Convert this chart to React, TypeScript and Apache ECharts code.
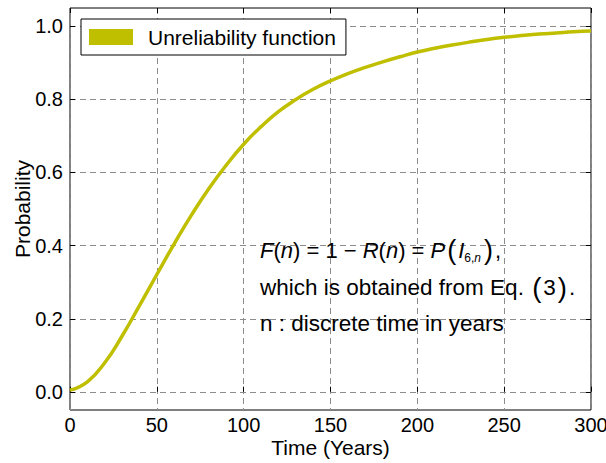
import React, { useEffect, useRef } from "react";
import * as echarts from "echarts";

// Time axis (years) and the unreliability F(n) at each sample
const years = [
  0, 10, 20, 30, 40, 50, 60, 70, 80, 90, 100, 110, 120, 130, 140, 150,
  160, 170, 180, 190, 200, 210, 220, 230, 240, 250, 260, 270, 280, 290, 300,
];
const unreliability = [
  0.005, 0.028, 0.08, 0.153, 0.236, 0.321, 0.405, 0.484, 0.556, 0.62, 0.677,
  0.725, 0.766, 0.799, 0.827, 0.85, 0.87, 0.887, 0.902, 0.916, 0.929,
  0.939, 0.948, 0.956, 0.963, 0.969, 0.974, 0.978, 0.981, 0.984, 0.986,
];
const xTicks = [0, 50, 100, 150, 200, 250, 300];
const yTicks = [0, 0.2, 0.4, 0.6, 0.8, 1.0];

const SERIES_NAME = "Unreliability function";
const LINE_COLOR = "#bfbf00";
const FONT = "'Liberation Sans', Arial, sans-serif";

export default function App() {
  const ref = useRef<HTMLDivElement>(null);

  useEffect(() => {
    if (!ref.current) return;
    const chart = echarts.init(ref.current, undefined, { renderer: "svg" });

    const gridLine = {
      show: true,
      lineStyle: { color: "#8c8c8c", width: 1, type: [6, 4] as number[] },
    };
    const inTick = {
      show: true,
      inside: true,
      length: 5,
      lineStyle: { color: "#000", width: 1 },
    };

    const plotLeft = 70;
    const plotRight = 606 - 591;

    const mathText = (fs: number) => ({
      n: { fontSize: fs, fontFamily: FONT, fill: "#000" },
      i: { fontSize: fs, fontFamily: FONT, fontStyle: "italic", fill: "#000" },
      p: { fontSize: fs + 5, fontFamily: FONT, fill: "#000", padding: [0, 2, 0, 2] },
      s: {
        fontSize: 12,
        fontFamily: FONT,
        fill: "#000",
        verticalAlign: "bottom",
        padding: [10, 0, 0, 0],
      },
      si: {
        fontSize: 12,
        fontFamily: FONT,
        fontStyle: "italic",
        fill: "#000",
        verticalAlign: "bottom",
        padding: [10, 1, 0, 0],
      },
    });

    chart.setOption({
      animation: false,
      backgroundColor: "#fff",
      textStyle: { fontFamily: FONT },
      grid: [
        // outer frame: full plotting box
        {
          left: plotLeft,
          right: plotRight,
          top: 8,
          bottom: 463 - 410,
          outerBoundsMode: "none",
          containLabel: false,
          show: true,
          borderColor: "#000",
          borderWidth: 1,
          backgroundColor: "transparent",
        },
        // value box: 0..1 probability span
        {
          left: plotLeft,
          right: plotRight,
          top: 26,
          bottom: 463 - 392,
          outerBoundsMode: "none",
          containLabel: false,
        },
      ],
      xAxis: [
        {
          gridIndex: 0,
          type: "value",
          position: "bottom",
          min: xTicks[0],
          max: xTicks[xTicks.length - 1],
          interval: xTicks[1] - xTicks[0],
          axisLine: { show: false },
          axisTick: inTick,
          splitLine: gridLine,
          axisLabel: {
            color: "#000",
            fontSize: 20,
            fontFamily: FONT,
            margin: 5,
          },
          name: "Time (Years)",
          nameLocation: "middle",
          nameGap: 27,
          nameMoveOverlap: false,
          nameTextStyle: { color: "#000", fontSize: 21, fontFamily: FONT },
        },
        {
          gridIndex: 0,
          type: "value",
          position: "top",
          min: xTicks[0],
          max: xTicks[xTicks.length - 1],
          interval: xTicks[1] - xTicks[0],
          axisLine: { show: false },
          axisTick: inTick,
          axisLabel: { show: false },
          splitLine: { show: false },
        },
        {
          gridIndex: 1,
          type: "value",
          min: xTicks[0],
          max: xTicks[xTicks.length - 1],
          show: false,
        },
      ],
      yAxis: [
        {
          gridIndex: 0,
          type: "value",
          min: -0.05,
          max: 1.05,
          show: false,
        },
        {
          gridIndex: 1,
          type: "value",
          position: "left",
          min: yTicks[0],
          max: yTicks[yTicks.length - 1],
          interval: yTicks[1] - yTicks[0],
          axisLine: { show: false },
          axisTick: inTick,
          splitLine: gridLine,
          axisLabel: {
            color: "#000",
            fontSize: 20,
            fontFamily: FONT,
            margin: 7,
            formatter: (v: number) => v.toFixed(1),
          },
          name: "Probability",
          nameLocation: "middle",
          nameGap: 37,
          nameMoveOverlap: false,
          nameTextStyle: { color: "#000", fontSize: 21, fontFamily: FONT },
        },
        {
          gridIndex: 1,
          type: "value",
          position: "right",
          min: yTicks[0],
          max: yTicks[yTicks.length - 1],
          interval: yTicks[1] - yTicks[0],
          axisLine: { show: false },
          axisTick: inTick,
          axisLabel: { show: false },
          splitLine: { show: false },
        },
      ],
      legend: {
        left: 81,
        top: 19,
        orient: "vertical",
        padding: [7, 10, 7, 8],
        itemWidth: 44,
        itemHeight: 16,
        backgroundColor: "#fff",
        borderColor: "#000",
        borderWidth: 1,
        borderRadius: 0,
        textStyle: {
          color: "#000",
          fontSize: 21,
          fontFamily: FONT,
          lineHeight: 22,
          padding: [0, 0, 0, 10],
        },
        data: [
          { name: SERIES_NAME, icon: "rect", itemStyle: { color: LINE_COLOR } },
        ],
      },
      series: [
        {
          name: SERIES_NAME,
          type: "line",
          xAxisIndex: 2,
          yAxisIndex: 1,
          data: years.map((y, i) => [y, unreliability[i]]),
          smooth: true,
          showSymbol: false,
          lineStyle: { color: LINE_COLOR, width: 3.5 },
          itemStyle: { color: LINE_COLOR },
          clip: false,
          z: 3,
        },
      ],
      graphic: [
        {
          type: "text",
          x: 260,
          y: 250,
          z: 10,
          style: {
            text:
              "{i|F}{n|(}{i|n}{n|) = 1 − }{i|R}{n|(}{i|n}{n|) = }{i|P}{p|(}{i|I}{s|6,}{si|n}{p|)}{n|,}",
            verticalAlign: "middle",
            align: "left",
            fill: "#000",
            rich: mathText(22),
          },
        },
        {
          type: "text",
          x: 260,
          y: 287,
          z: 10,
          style: {
            text: "{n|which is obtained from Eq. }{p|(}{n|3}{p|)}{n|.}",
            verticalAlign: "middle",
            align: "left",
            fill: "#000",
            rich: mathText(22.5),
          },
        },
        {
          type: "text",
          x: 260,
          y: 323,
          z: 10,
          style: {
            text: "n : discrete time in years",
            verticalAlign: "middle",
            align: "left",
            fontSize: 22.5,
            fontFamily: FONT,
            fill: "#000",
          },
        },
      ],
    });

    return () => chart.dispose();
  }, []);

  return (
    <div
      ref={ref}
      style={{ position: "fixed", left: 0, top: 0, width: 606, height: 463 }}
    />
  );
}
